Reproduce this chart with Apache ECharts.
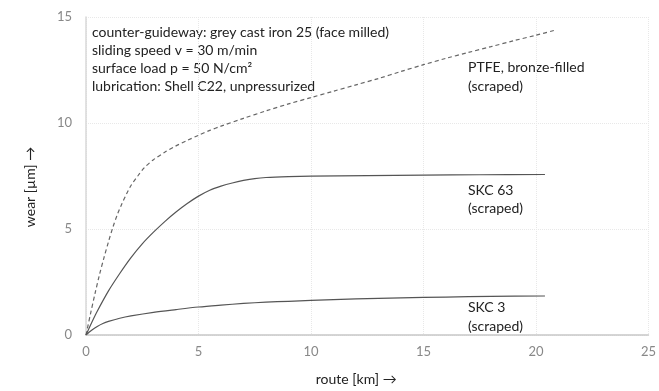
<!DOCTYPE html>
<html>
<head>
<meta charset="utf-8">
<script src="https://cdn.jsdelivr.net/npm/echarts@6/dist/echarts.min.js"></script>
<style>html,body{margin:0;padding:0;background:#fff}#c{width:659px;height:391px}</style>
</head>
<body>
<div id="c"></div>
<script>
// route [km] and wear [µm]
const ptfeX = [0, 0.2, 0.4, 0.6, 0.8, 1.0, 1.2, 1.4, 1.6, 1.8, 2.0, 2.3, 2.6, 3.0, 3.5, 4, 4.5, 5, 5.5, 6, 7, 8, 9, 10, 11, 12, 13, 14, 15, 16, 17, 18, 19, 20, 20.85];
const ptfeY = [0, 1.0, 1.95, 2.85, 3.65, 4.4, 5.1, 5.7, 6.2, 6.65, 7.05, 7.5, 7.9, 8.27, 8.62, 8.92, 9.18, 9.42, 9.65, 9.85, 10.22, 10.57, 10.9, 11.2, 11.5, 11.8, 12.1, 12.43, 12.75, 13.05, 13.33, 13.6, 13.88, 14.14, 14.38];
const skc63X = [0, 0.25, 0.5, 1, 1.5, 2, 2.5, 3, 3.5, 4, 4.5, 5, 5.5, 6, 6.5, 7, 7.5, 8, 9, 10, 12.5, 15, 17.5, 20.4];
const skc63Y = [0, 0.58, 1.12, 2.08, 2.9, 3.65, 4.3, 4.85, 5.35, 5.8, 6.2, 6.55, 6.83, 7.02, 7.17, 7.29, 7.38, 7.43, 7.47, 7.49, 7.52, 7.54, 7.56, 7.57];
const skc3X = [0, 0.25, 0.5, 0.75, 1, 1.5, 2, 3, 4, 5, 6, 7, 8, 9, 10, 12, 14, 16, 18, 20.4];
const skc3Y = [0, 0.22, 0.4, 0.54, 0.64, 0.79, 0.9, 1.07, 1.2, 1.32, 1.41, 1.49, 1.55, 1.59, 1.63, 1.7, 1.75, 1.79, 1.82, 1.84];
const xTicks = [0, 5, 10, 15, 20, 25];
const yTicks = [0, 5, 10, 15];
const noteLines = [
  'counter-guideway: grey cast iron 25 (face milled)',
  'sliding speed v = 30 m/min',
  'surface load p = 50 N/cm²',
  'lubrication: Shell C22, unpressurized'
];
const seriesLabels = [
  ['PTFE, bronze-filled', '(scraped)'],
  ['SKC 63', '(scraped)'],
  ['SKC 3', '(scraped)']
];

const FONT = 'Lato, "Open Sans", sans-serif';
const zip = (xs, ys) => xs.map((x, i) => [x, ys[i]]);

const chart = echarts.init(document.getElementById('c'), null, {renderer: 'canvas'});

const graphics = [];
noteLines.forEach((t, i) => {
  graphics.push({type: 'text', left: 92, top: 25 + i * 18.3,
    style: {text: t, font: '14px ' + FONT, fill: '#222'}});
});
const labelTops = [[60, 79], [183, 201], [300, 319]];
seriesLabels.forEach((pair, k) => {
  pair.forEach((t, i) => {
    graphics.push({type: 'text', left: 468, top: labelTops[k][i],
      style: {text: t, font: '14px ' + FONT, fill: '#222'}});
  });
});

chart.setOption({
  animation: false,
  textStyle: {fontFamily: FONT},
  grid: {left: 86, right: 5, top: 17, bottom: 55, containLabel: false},
  xAxis: {
    type: 'value', min: xTicks[0], max: xTicks[xTicks.length - 1], interval: 5,
    name: 'route [km] →', nameLocation: 'middle', nameGap: 37,
    nameTextStyle: {color: '#222', fontSize: 14, fontFamily: FONT, padding: [0, 22, 0, 0]},
    axisLine: {lineStyle: {color: '#c8c8c8', width: 1.5}},
    axisTick: {show: false},
    axisLabel: {color: '#888', fontSize: 13, margin: 10},
    splitLine: {show: true, lineStyle: {color: '#e8e8e8', type: 'dotted', width: 1}}
  },
  yAxis: {
    type: 'value', min: yTicks[0], max: yTicks[yTicks.length - 1], interval: 5,
    name: 'wear [µm] →', nameLocation: 'middle', nameGap: 49, nameRotate: 90,
    nameTextStyle: {color: '#222', fontSize: 14, fontFamily: FONT, padding: [0, 22, 0, 0]},
    axisLine: {show: true, lineStyle: {color: '#d8d8d8', width: 1.5}},
    axisTick: {show: false},
    axisLabel: {color: '#888', fontSize: 13, margin: 14},
    splitLine: {show: true, lineStyle: {color: '#e8e8e8', type: 'dotted', width: 1}}
  },
  series: [
    {type: 'line', name: 'PTFE', data: zip(ptfeX, ptfeY), smooth: 0.3, showSymbol: false,
      lineStyle: {color: '#666', width: 1.2, type: [4, 3]}},
    {type: 'line', name: 'SKC 63', data: zip(skc63X, skc63Y), smooth: 0.3, showSymbol: false,
      lineStyle: {color: '#555', width: 1.2}},
    {type: 'line', name: 'SKC 3', data: zip(skc3X, skc3Y), smooth: 0.3, showSymbol: false,
      lineStyle: {color: '#555', width: 1.2}}
  ],
  graphic: graphics
});
</script>
</body>
</html>
